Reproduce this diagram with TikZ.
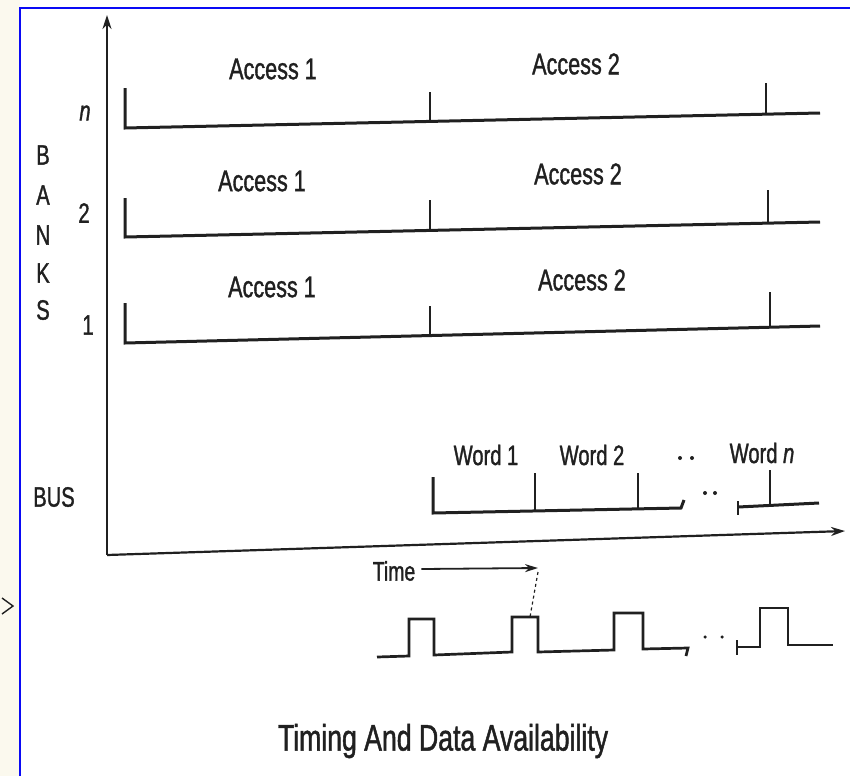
\documentclass[tikz,border=0pt]{standalone}
\usepackage{fontspec}
\setmainfont{Liberation Sans}
\newfontfamily\narrowsans[FakeStretch=0.72,FakeBold=1.2]{Liberation Sans}
\usetikzlibrary{arrows.meta,calc}
\definecolor{ink}{RGB}{32,32,32}
\definecolor{frameblue}{RGB}{10,10,245}
\definecolor{margin}{RGB}{251,249,238}
\begin{document}
\begin{tikzpicture}[x=1pt,y=-1pt,
  lbl/.style={inner sep=0pt, text=ink, font=\narrowsans\fontsize{30}{32}\selectfont},
  small/.style={lbl, font=\narrowsans\fontsize{28}{30}\selectfont},
  axis/.style={draw=ink, line width=2.2pt, -{Stealth[length=14pt,width=9pt]}},
  bankline/.style={draw=ink, line width=3pt, line join=miter},
  tickmark/.style={draw=ink, line width=2.4pt},
  wave/.style={draw=ink, line width=2.7pt, line join=miter},
  dotmark/.style={fill=ink, circle, inner sep=0pt, minimum size=4pt}]

\useasboundingbox (0,0) rectangle (850,776);

% page margin and frame
\fill[margin] (0,0) rectangle (20,776);
\draw[ink, line width=1.4pt] (2,598) -- (13,606) -- (2,614);
\draw[frameblue, line width=2.6pt] (20,776) -- (20,8) -- (850,8);

% axes
\coordinate (origin) at (107,555);
\coordinate (ytop) at (107,15);
\coordinate (xend) at (845,531);
\draw[axis] (origin) -- (ytop);
\draw[axis] (origin) -- (xend);

% vertical axis labels
\node[small] (lB) at (43,155) {B};
\node[small] (lA) at (43,195) {A};
\node[small] (lN) at (43,235) {N};
\node[small] (lK) at (43,273) {K};
\node[small] (lS) at (43,310) {S};
\node[small] (rown) at (85,113) {\itshape n};
\node[small] (row2) at (84,213) {2};
\node[small] (row1) at (88,325) {1};
\node[small] (bus) at (54,497) {BUS};

% bank n
\coordinate (nL) at (125,128);
\coordinate (nR) at (820,113);
\coordinate (nM) at ($(nL)!0.4388!(nR)$);
\coordinate (nE) at ($(nL)!0.9223!(nR)$);
\draw[bankline] (125,88) -- (nL) -- (nR);
\draw[tickmark] (nM) -- ++(0,-29);
\draw[tickmark] (nE) -- ++(0,-31);
\node[lbl] (an1) at (273,69) {Access 1};
\node[lbl] (an2) at (576,64) {Access 2};

% bank 2
\coordinate (bL) at (125,237);
\coordinate (bR) at (820,222);
\coordinate (bM) at ($(bL)!0.4388!(bR)$);
\coordinate (bE) at ($(bL)!0.9252!(bR)$);
\draw[bankline] (125,198) -- (bL) -- (bR);
\draw[tickmark] (bM) -- ++(0,-30);
\draw[tickmark] (bE) -- ++(0,-33);
\node[lbl] (ab1) at (262,181) {Access 1};
\node[lbl] (ab2) at (578,174) {Access 2};

% bank 1
\coordinate (aL) at (125,343);
\coordinate (aR) at (820,326);
\coordinate (aM) at ($(aL)!0.4388!(aR)$);
\coordinate (aE) at ($(aL)!0.928!(aR)$);
\draw[bankline] (125,303) -- (aL) -- (aR);
\draw[tickmark] (aM) -- ++(0,-30);
\draw[tickmark] (aE) -- ++(0,-35);
\node[lbl] (aa1) at (272,287) {Access 1};
\node[lbl] (aa2) at (582,280) {Access 2};

% bus words
\coordinate (wL) at (433,513);
\coordinate (wR) at (681,508);
\draw[bankline] (433,477) -- (wL) -- (wR) -- (684,500);
\draw[tickmark] ($(wL)!0.412!(wR)$) -- ++(0,-38);
\draw[tickmark] ($(wL)!0.827!(wR)$) -- ++(0,-36);
\coordinate (vL) at (738,507);
\coordinate (vR) at (819,503);
\draw[tickmark] (738,501) -- (738,515);
\draw[bankline] (vL) -- (vR);
\draw[tickmark] ($(vL)!0.395!(vR)$) -- ++(0,-35);
\node[dotmark] (bd1) at (705,493) {};
\node[dotmark] (bd2) at (715,493) {};
\node[small] (w1) at (486,455) {Word 1};
\node[small] (w2) at (592,455) {Word 2};
\node[dotmark] (wd1) at (680,458) {};
\node[dotmark] (wd2) at (692,458) {};
\node[small] (wn) at (762,453) {Word \itshape n};

% clock waveform
\draw[wave] (377,657) -- (409,656) -- (409,619) -- (434,619) -- (434,655)
  -- (512,652) -- (512,617) -- (538,617) -- (538,652)
  -- (614,650) -- (614,613) -- (643,613) -- (643,649) -- (688,648) -- (686,656);
\draw[wave] (737,640) -- (737,655);
\draw[wave] (737,647) -- (760,647) -- (760,608) -- (788,608) -- (788,645) -- (833,645);
\node[dotmark, minimum size=3.5pt] (cd1) at (705,637) {};
\node[dotmark, minimum size=3.5pt] (cd2) at (722,637) {};

% time marker
\node[lbl, font=\narrowsans\fontsize{27}{29}\selectfont] (time) at (394,571) {Time};
\coordinate (tipT) at (538,568);
\coordinate (pulse2) at (530,617);
\draw[draw=ink, line width=1.8pt, -{Stealth[length=13pt,width=8pt]}] (time.east) ++(6,-2) -- (tipT);
\draw[draw=ink, line width=1.2pt, dashed] (tipT) ++(0,4) -- (pulse2);

% caption
\node[lbl, font=\narrowsans\fontsize{37}{40}\selectfont] (caption) at (443,741) {Timing And Data Availability};
\end{tikzpicture}
\end{document}
